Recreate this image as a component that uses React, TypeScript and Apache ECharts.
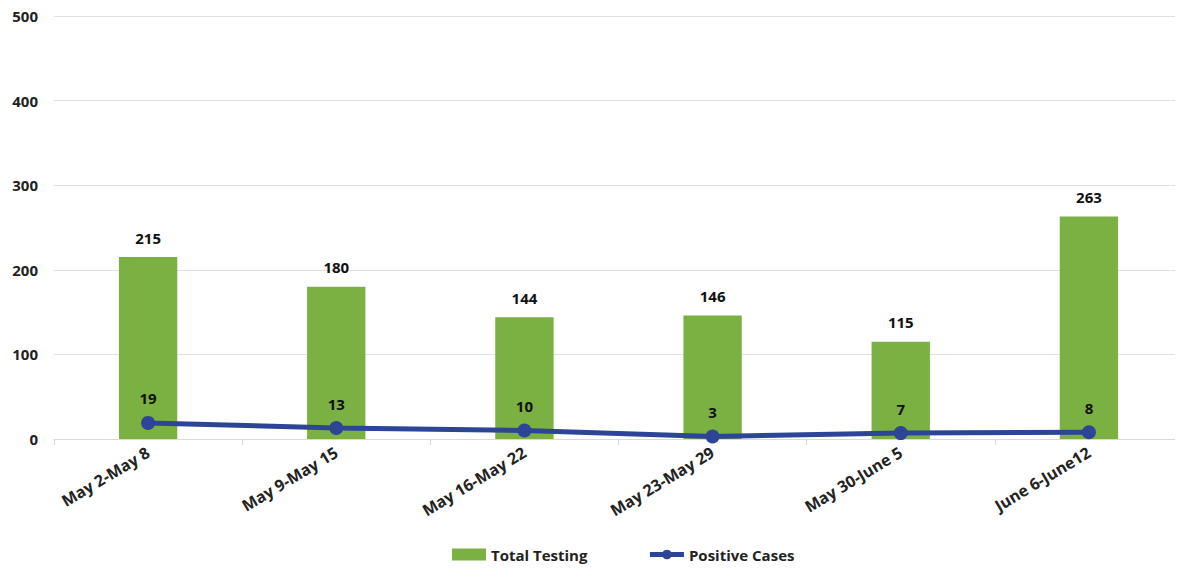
import React, { useEffect, useRef } from "react";
import * as echarts from "echarts";

const categories = ["May 2-May 8", "May 9-May 15", "May 16-May 22", "May 23-May 29", "May 30-June 5", "June 6-June12"];
const totalTesting = [215, 180, 144, 146, 115, 263];
const positiveCases = [19, 13, 10, 3, 7, 8];
const yTicks = [0, 100, 200, 300, 400, 500];

const FONT = "'Open Sans', 'Noto Sans', sans-serif";

export default function App() {
  const ref = useRef<HTMLDivElement>(null);
  useEffect(() => {
    if (!ref.current) return;
    const chart = echarts.init(ref.current, null, { renderer: "svg" });
    chart.setOption({
      animation: false,
      textStyle: { fontFamily: FONT },
      grid: { left: 54, right: 0, top: 16, bottom: 130, containLabel: false },
      legend: {
        bottom: 2,
        left: 447,
        itemGap: 60,
        itemWidth: 34,
        itemHeight: 12,
        lineStyle: { width: 5 },
        textStyle: { fontFamily: FONT, fontWeight: "bold", fontSize: 15, color: "#222" },
        data: [
          { name: "Total Testing", icon: "rect" },
          { name: "Positive Cases" },
        ],
      },
      xAxis: {
        type: "category",
        data: categories,
        axisLine: { lineStyle: { color: "#d9d9d9" } },
        axisTick: { show: true, alignWithLabel: false, length: 6, lineStyle: { color: "#d9d9d9" } },
        axisLabel: {
          rotate: 31,
          interval: 0,
          fontFamily: FONT,
          fontWeight: "bold",
          fontSize: 16,
          color: "#222",
          margin: 12,
        },
      },
      yAxis: {
        type: "value",
        min: 0,
        max: 500,
        interval: 100,
        axisLine: { show: false },
        axisTick: { show: false },
        splitLine: { lineStyle: { color: "#e0e0e0", width: 1 } },
        axisLabel: {
          fontFamily: FONT,
          fontWeight: "bold",
          fontSize: 15,
          color: "#222",
          margin: 16,
          formatter: (v: number) => (yTicks.includes(v) ? String(v) : ""),
        },
      },
      series: [
        {
          name: "Total Testing",
          type: "bar",
          data: totalTesting,
          barWidth: "31%",
          itemStyle: { color: "#7BB143" },
          label: {
            show: true,
            position: "top",
            distance: 12,
            fontFamily: FONT,
            fontWeight: "bold",
            fontSize: 15,
            color: "#111",
          },
        },
        {
          name: "Positive Cases",
          type: "line",
          data: positiveCases,
          symbol: "circle",
          symbolSize: 14,
          lineStyle: { color: "#2C4596", width: 5 },
          itemStyle: { color: "#2C4596" },
          label: {
            show: true,
            position: "top",
            distance: 10,
            fontFamily: FONT,
            fontWeight: "bold",
            fontSize: 15,
            color: "#111",
          },
        },
      ],
    });
    return () => chart.dispose();
  }, []);
  return <div ref={ref} style={{ width: 1183, height: 569, marginTop: -8, marginLeft: -8 }} />;
}
